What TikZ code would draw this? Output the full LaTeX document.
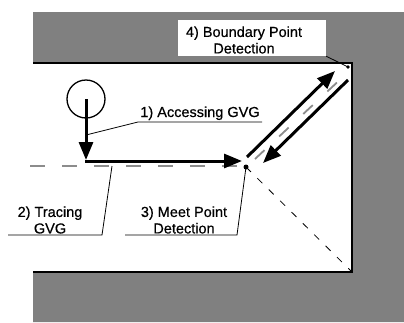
\documentclass[tikz,border=0pt]{standalone}
\usepackage{fontspec}
\setmainfont{Liberation Sans}
\newfontfamily\lblfont{Liberation Sans}[FakeBold=0.5]
\usetikzlibrary{arrows.meta}
\begin{document}
\begin{tikzpicture}[x=1pt,y=-1pt,
  lbl/.style={font=\lblfont\fontsize{14.5}{16.5}\selectfont, align=center, inner sep=0pt},
  thickarrow/.style={line width=3pt, -{Triangle[length=18pt,width=14pt]}},
  thinline/.style={line width=0.8pt},
  gvg/.style={line width=1.8pt, black!45, dash pattern=on 15pt off 17pt},
  gvgdiag/.style={line width=1.8pt, black!45, dash pattern=on 13pt off 20pt},
  hatch/.style={fill=black!50}]
\useasboundingbox (0,0) rectangle (404,322);
% shaded obstacle region
\fill[hatch] (33,12) -- (404,12) -- (404,322) -- (33,322) -- (33,272) -- (352,272) -- (352,63) -- (33,63) -- cycle;
\draw[line width=1.3pt] (33,63) -- (352,63) -- (352,272) -- (33,272);
\node[fill=white, minimum width=148pt, minimum height=36pt, inner sep=0pt] (box4) at (252,38) {};
\node[lbl] (t4) at (244,40) {4) Boundary Point\\Detection};
% key points
\coordinate (bp) at (348,67);
\coordinate (mp) at (246,167);
\coordinate (corner) at (352,272);
\coordinate (enter) at (86,160);
\coordinate (hstart) at (85,161);
\coordinate (htip) at (242,161);
\coordinate (a1) at (86,135);
\coordinate (a2) at (112,166);
% GVG dotted edges
\draw[gvg] (30,166) -- (240,166);
\draw[gvgdiag] (255,159) -- (345,75);
\draw[thinline, dash pattern=on 7pt off 9pt] (mp) -- (corner);
% robot
\node[circle, draw, line width=1.3pt, minimum size=38pt, inner sep=0pt] (robot) at (86,99) {};
\draw[thickarrow] (robot.center) -- (enter);
\draw[thickarrow] (hstart) -- (htip);
\coordinate (d1s) at (247,157);
\coordinate (d1e) at (335,71);
\coordinate (d2s) at (348,80);
\coordinate (d2e) at (263,163);
\draw[thickarrow] (d1s) -- (d1e);
\draw[thickarrow] (d2s) -- (d2e);
\fill (mp) circle (2.5pt);
\fill (bp) circle (1.8pt);
% labels
\node[lbl, anchor=base] (t1) at (200,117) {1) Accessing GVG};
\node[lbl] (t2) at (50,220) {2) Tracing\\GVG};
\node[lbl] (t3) at (184,220) {3) Meet Point\\Detection};
% leaders
\coordinate (u1a) at (138,122);
\coordinate (u1b) at (262,122);
\draw[thinline] (u1b) -- (u1a) -- (a1);
\coordinate (u2a) at (8,235);
\coordinate (u2b) at (102,235);
\draw[thinline] (u2a) -- (u2b) -- (a2);
\coordinate (u3a) at (125,235);
\coordinate (u3b) at (237,235);
\draw[thinline] (u3a) -- (u3b) -- (mp);
\draw[thinline] (box4.south east) -- (bp);
\end{tikzpicture}
\end{document}
